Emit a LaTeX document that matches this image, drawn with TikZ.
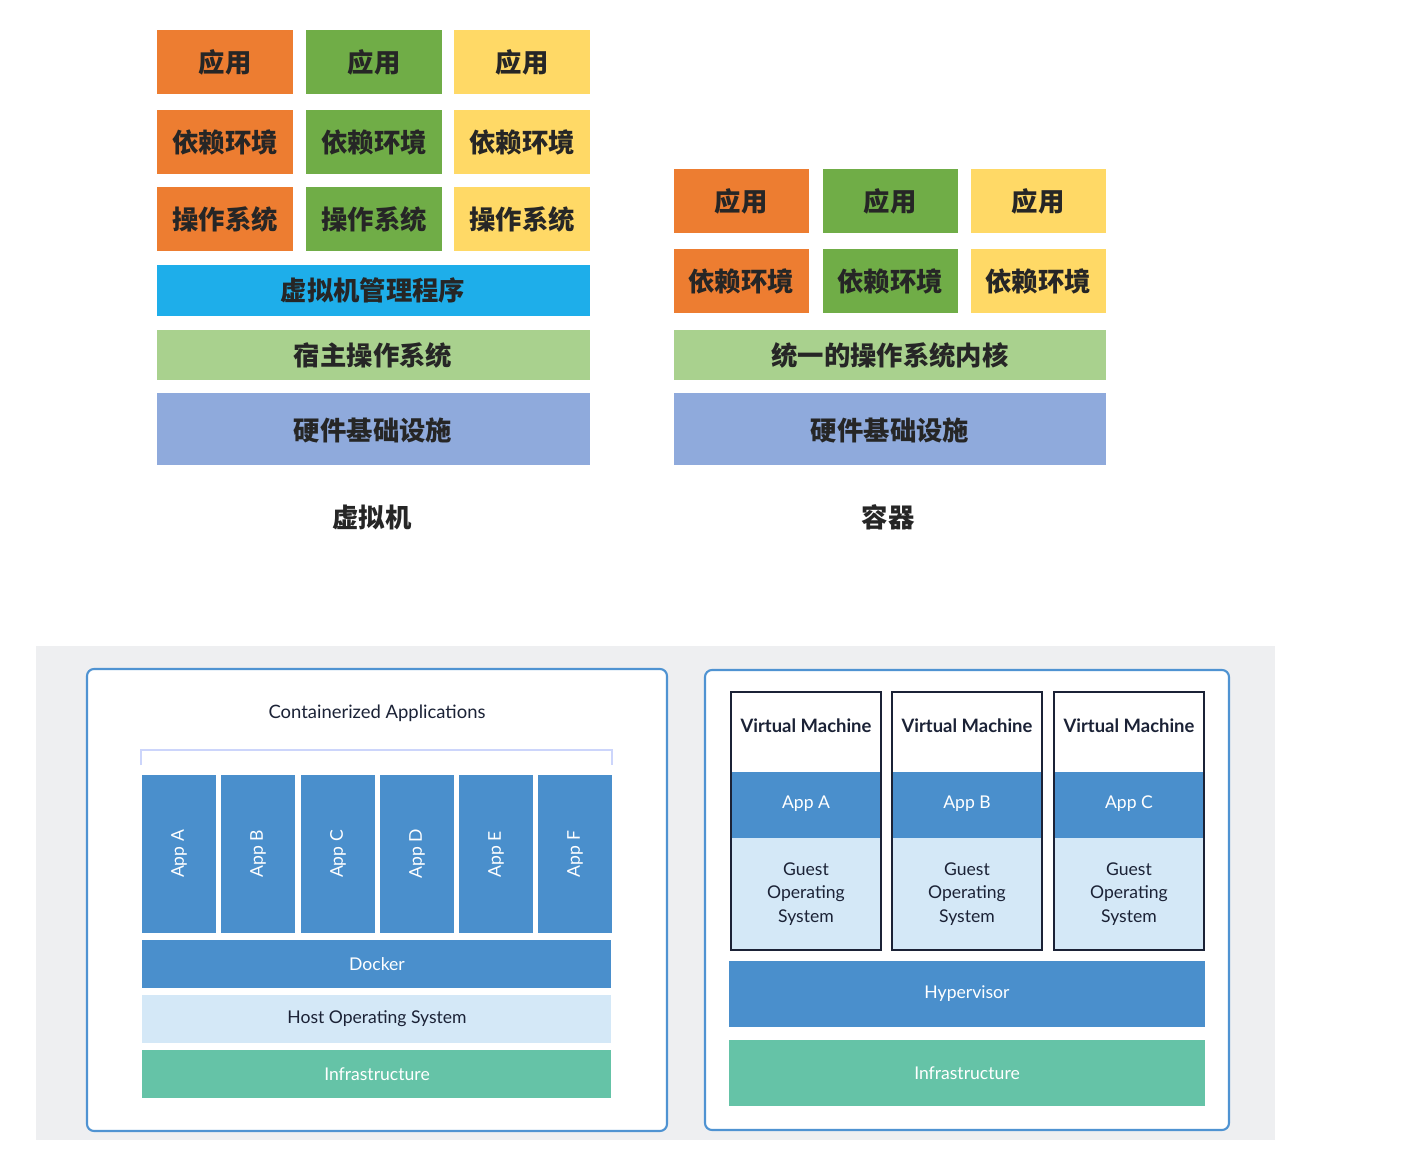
\documentclass[tikz,border=0pt]{standalone}
\usepackage{fontspec}
\setmainfont{Lato}
\newfontfamily\cjk{Noto Sans CJK SC}
\definecolor{cor}{HTML}{ED7D31}
\definecolor{cgr}{HTML}{70AD47}
\definecolor{cye}{HTML}{FFD966}
\definecolor{cbl}{HTML}{1EAEEA}
\definecolor{clg}{HTML}{A9D18E}
\definecolor{chw}{HTML}{8FAADC}
\definecolor{dblue}{HTML}{4A8FCC}
\definecolor{lblue}{HTML}{D4E8F7}
\definecolor{infra}{HTML}{65C3A7}
\definecolor{bgg}{HTML}{EEEFF1}
\definecolor{frame}{HTML}{4F93D2}
\definecolor{navy}{HTML}{1B2236}
\begin{document}
\begin{tikzpicture}[x=0.02cm,y=-0.02cm,
  cb/.style={draw=none,font=\cjk\fontsize{15}{15}\selectfont\bfseries,text=black!85},
  en/.style={font=\fontsize{10}{12}\selectfont},
]
\useasboundingbox (0,0) rectangle (1406,1152);
\newcommand\bx[6]{\fill[#5] (#1,#2) rectangle (#3,#4); \node[cb] (#6) at ({(#1+#3)/2},{(#2+#4)/2}) {};}
% top-left
\foreach \x/\c [count=\i] in {157/cor,306/cgr,454/cye}{
  \fill[\c] (\x,30) rectangle (\x+136,94); \node[cb] (a\i) at (\x+68,62) {应用};
  \fill[\c] (\x,110) rectangle (\x+136,174); \node[cb] (d\i) at (\x+68,142) {依赖环境};
  \fill[\c] (\x,187) rectangle (\x+136,251); \node[cb] (o\i) at (\x+68,219) {操作系统};
}
\fill[cbl] (157,265) rectangle (590,316); \node[cb] (hv) at (373,290) {虚拟机管理程序};
\fill[clg] (157,330) rectangle (590,380); \node[cb] (hos) at (373,355) {宿主操作系统};
\fill[chw] (157,393) rectangle (590,465); \node[cb] (hw1) at (373,430) {硬件基础设施};
\node[cb] (l1) at (372,517) {虚拟机};
% top-right
\foreach \x/\c [count=\i] in {674/cor,823/cgr,971/cye}{
  \fill[\c] (\x,169) rectangle (\x+135,233); \node[cb] (ca\i) at (\x+67,201) {应用};
  \fill[\c] (\x,249) rectangle (\x+135,313); \node[cb] (cd\i) at (\x+67,281) {依赖环境};
}
\fill[clg] (674,330) rectangle (1106,380); \node[cb] (ker) at (890,355) {统一的操作系统内核};
\fill[chw] (674,393) rectangle (1106,465); \node[cb] (hw2) at (890,430) {硬件基础设施};
\node[cb] (l2) at (888,517) {容器};
% bottom
\fill[bgg] (36,646) rectangle (1275,1140);
\draw[frame,line width=1.2pt,fill=white,rounded corners=4pt] (87,669) rectangle (667,1131);
\draw[frame,line width=1.2pt,fill=white,rounded corners=4pt] (705,670) rectangle (1229,1130);
\node[en,text=navy,font=\fontsize{10.5}{12}\selectfont] (ct) at (377,713) {Containerized Applications};
\draw[lblue!80!blue!60,line width=1.5pt] (141,765) -- (141,750) -- (612,750) -- (612,765);
\foreach \x/\n in {142/A,221/B,301/C,380/D,459/E,538/F}{
  \fill[dblue] (\x,775) rectangle (\x+74,933);
  \node[en,text=white,rotate=90] (app\n) at (\x+37,854) {App \n};
}
\fill[dblue] (142,940) rectangle (611,988); \node[en,text=white] (dk) at (377,964) {Docker};
\fill[lblue] (142,995) rectangle (611,1043); \node[en,text=navy] (hos2) at (377,1019) {Host Operating System};
\fill[infra] (142,1050) rectangle (611,1098); \node[en,text=white] (inf1) at (377,1074) {Infrastructure};
\foreach \x/\n in {731/A,892/B,1054/C}{
  \fill[dblue] (\x,772) rectangle (\x+150,838);
  \fill[lblue] (\x,838) rectangle (\x+150,950);
  \draw[navy,line width=1pt] (\x,692) rectangle (\x+150,950);
  \node[en,text=navy,font=\fontsize{10.5}{12}\selectfont\bfseries] (vm\n) at (\x+75,726) {Virtual Machine};
  \node[en,text=white] (va\n) at (\x+75,804) {App \n};
  \node[en,text=navy,align=center,font=\fontsize{10}{13.5}\selectfont] (g\n) at (\x+75,894) {Guest\\Operating\\System};
}
\fill[dblue] (729,961) rectangle (1205,1027); \node[en,text=white] (hyp) at (967,994) {Hypervisor};
\fill[infra] (729,1040) rectangle (1205,1106); \node[en,text=white] (inf2) at (967,1073) {Infrastructure};
\end{tikzpicture}
\end{document}
